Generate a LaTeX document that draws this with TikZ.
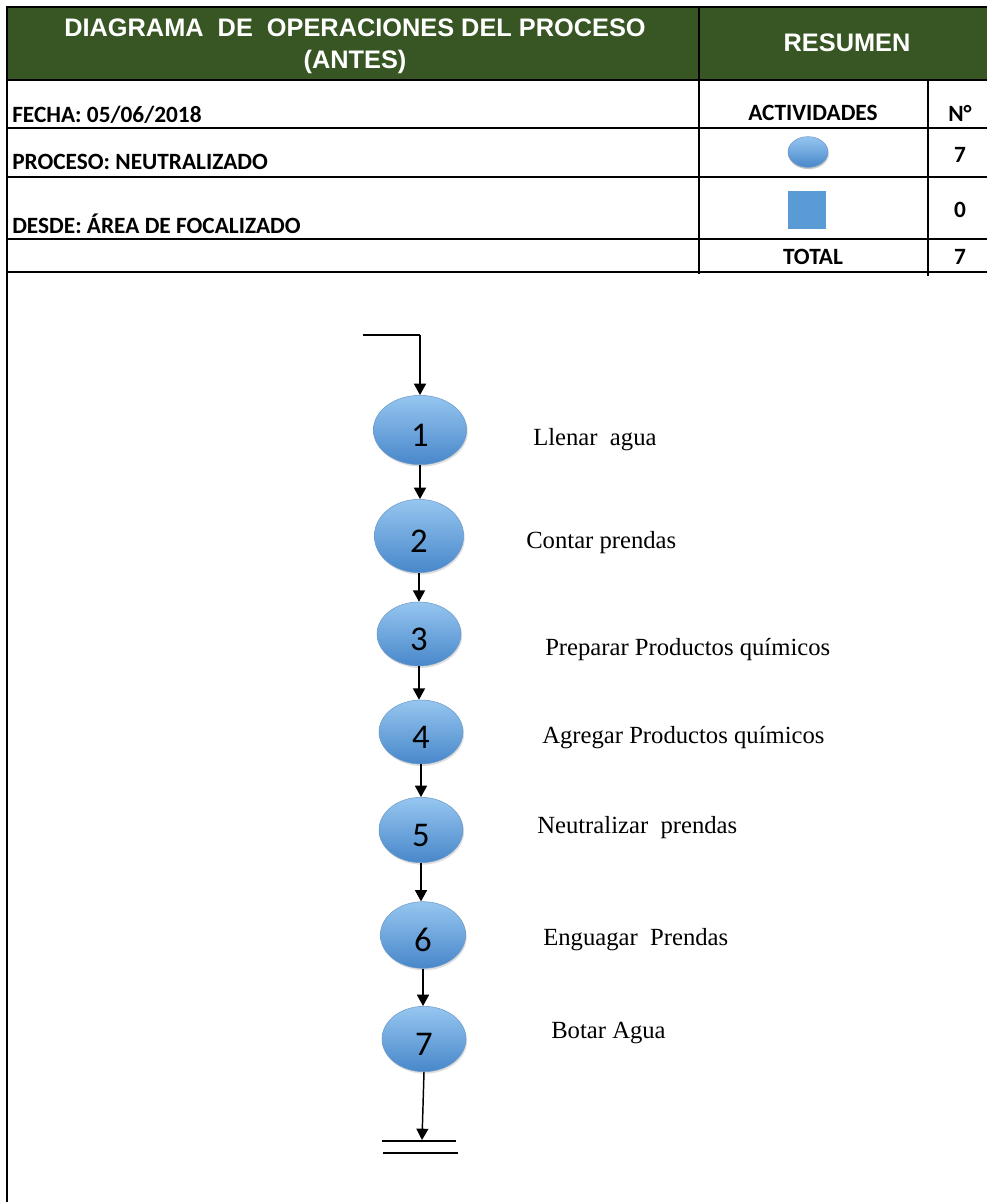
\documentclass[tikz,border=0pt]{standalone}
\usepackage{fontspec}
\setmainfont{Liberation Serif}
\newfontfamily\calibri{Carlito}
\newfontfamily\arialf{Liberation Sans}
\usetikzlibrary{arrows.meta,shapes.geometric,shadows}
\definecolor{hdrgreen}{RGB}{56,86,35}
\definecolor{blueA}{RGB}{150,198,240}
\definecolor{blueB}{RGB}{72,135,202}
\definecolor{blueE}{RGB}{110,155,200}
\definecolor{sqblue}{RGB}{91,155,213}
\tikzset{
  x=0.75pt, y=-0.75pt,
  grid/.style={line width=1.6pt, black},
  hdr/.style={font=\arialf\bfseries\fontsize{19}{24}\selectfont, text=white},
  cell/.style={font=\calibri\bfseries\fontsize{17.5}{20}\selectfont, inner sep=0pt},
  opnode/.style={ellipse, inner sep=0pt, top color=blueA, bottom color=blueB, draw=blueE, line width=0.4pt,
     drop shadow={opacity=0.25, shadow xshift=0.8pt, shadow yshift=-1.5pt},
     font=\calibri\fontsize{26}{28}\selectfont, text height=25pt, text depth=0pt},
  lbl/.style={anchor=west, inner sep=0pt, font=\fontsize{18.5}{22}\selectfont},
  flow/.style={line width=1.1pt, -{Triangle[width=9pt,length=8.5pt]}},
  plain/.style={line width=1.1pt}
}
\begin{document}
\begin{tikzpicture}
\useasboundingbox (0,0) rectangle (987,1202);
% header band
\fill[hdrgreen] (7,7) rectangle (987,80);
\draw[grid] (987,7) -- (7,7) -- (7,1202);
\draw[grid] (699,7) -- (699,274);
\draw[grid] (928,80) -- (928,276);
\foreach \yy in {80,128,177,239,272} \draw[grid] (7,\yy) -- (987,\yy);
\node[hdr, align=center] (title) at (355,46) {DIAGRAMA\ \ DE\ \ OPERACIONES DEL PROCESO\\(ANTES)};
\node[hdr] (resumen) at (847,43) {RESUMEN};
\node[cell, anchor=west] (fecha) at (12,115) {FECHA: 05/06/2018};
\node[cell, anchor=west] (proceso) at (12,162) {PROCESO: NEUTRALIZADO};
\node[cell, anchor=west] (desde) at (12,224) {DESDE: ÁREA DE FOCALIZADO};
\node[cell] (act) at (813,113) {ACTIVIDADES};
\node[cell] (nro) at (960,113) {N°};
\node[cell] (n1) at (960,155) {7};
\node[cell] (n2) at (960,210) {0};
\node[cell] (total) at (813,257) {TOTAL};
\node[cell] (n3) at (960,257) {7};
\node[opnode, minimum width=30pt, minimum height=23pt, text height=0pt, drop shadow={opacity=0.3, shadow xshift=0pt, shadow yshift=-1.2pt}] (symop) at (808,152) {};
\node[fill=sqblue, minimum width=28.5pt, minimum height=29pt, inner sep=0pt] (symsq) at (807,210) {};
% flow
\node[opnode, minimum width=70pt, minimum height=52pt] (e1) at (420,430) {1};
\node[opnode, minimum width=67pt, minimum height=55pt] (e2) at (419,536) {2};
\node[opnode, minimum width=63pt, minimum height=48pt] (e3) at (419,634) {3};
\node[opnode, minimum width=63pt, minimum height=48pt] (e4) at (421,732) {4};
\node[opnode, minimum width=63pt, minimum height=49pt] (e5) at (421,830) {5};
\node[opnode, minimum width=64pt, minimum height=50pt] (e6) at (423,935) {6};
\node[opnode, minimum width=63pt, minimum height=49pt] (e7) at (424,1039) {7};
\coordinate (start) at (363,335);
\coordinate (corner) at (420,335);
\coordinate (endp) at (422,1140);
\coordinate (b1l) at (382,1141);
\coordinate (b1r) at (456,1141);
\coordinate (b2l) at (383,1153);
\coordinate (b2r) at (458,1153);
\draw[plain] (start) -- (corner);
\draw[flow] (corner) -- (e1.north);
\draw[flow] (e1.south) -- (e1.south |- e2.north);
\draw[flow] (e2.south) -- (e2.south |- e3.north);
\draw[flow] (e3.south) -- (e3.south |- e4.north);
\draw[flow] (e4.south) -- (e4.south |- e5.north);
\draw[flow] (e5.south) -- (e5.south |- e6.north);
\draw[flow] (e6.south) -- (e6.south |- e7.north);
\draw[flow] (e7.south) -- (endp);
\draw[plain] (b1l) -- (b1r);
\draw[plain] (b2l) -- (b2r);
% labels
\node[lbl] (t1) at (533,440) {Llenar\ \ agua};
\node[lbl] (t2) at (526,543) {Contar prendas};
\node[lbl] (t3) at (545,650) {Preparar Productos químicos};
\node[lbl] (t4) at (542,738) {Agregar\ Productos\ químicos};
\node[lbl] (t5) at (537,828) {Neutralizar\ \ prendas};
\node[lbl] (t6) at (543,940) {Enguagar\ \ Prendas};
\node[lbl] (t7) at (551,1033) {Botar Agua};
\end{tikzpicture}
\end{document}
